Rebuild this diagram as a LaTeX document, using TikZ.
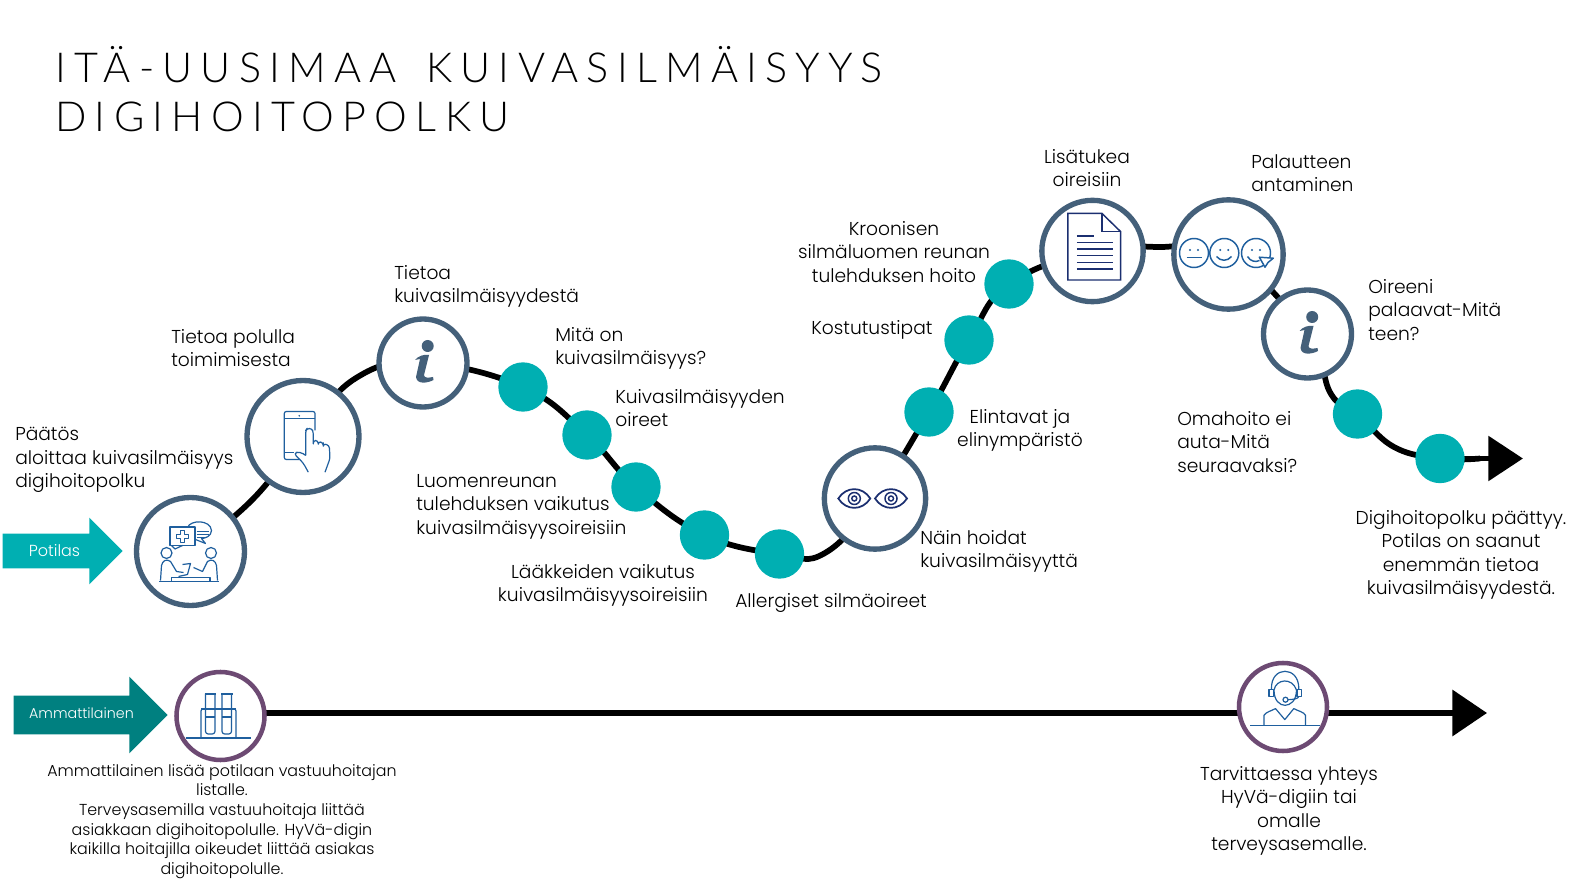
\documentclass[tikz,border=0pt]{standalone}
\usepackage{fontspec}
\setmainfont{Poppins Light}
\newfontfamily\titlefont[LetterSpace=20,WordSpace=1.5]{Lato Light}
\usetikzlibrary{arrows.meta, positioning, shapes.arrows, backgrounds}

\definecolor{slate}{HTML}{44607A}
\definecolor{plum}{HTML}{6D4A73}
\definecolor{dotteal}{HTML}{00AFB2}
\definecolor{darkteal}{HTML}{008080}
\definecolor{iconblue}{HTML}{1F5F9E}
\definecolor{navy}{HTML}{1B2F70}

\begin{document}
\begin{tikzpicture}[
  x=0.75pt, y=-0.75pt,
  stage/.style={circle, draw=slate, line width=4pt, fill=white, inner sep=0pt},
  staff/.style={circle, draw=plum, line width=3.4pt, fill=white, inner sep=0pt, minimum size=66pt},
  dot/.style={circle, fill=dotteal, inner sep=0pt, minimum size=37pt},
  lbl/.style={font=\fontsize{14}{17.6}\selectfont, align=left, inner sep=0pt, anchor=north west},
  lblc/.style={lbl, align=center, anchor=north},
  small/.style={font=\fontsize{11.9}{14.7}\selectfont, align=center, inner sep=0pt, anchor=north},
  role/.style={single arrow, single arrow head indent=0pt, inner sep=0pt, text depth=0pt,
    anchor=tip, shape border rotate=0},
  rolelbl/.style={text=white, inner sep=0pt},
  trail/.style={line width=4.3pt, black},
  icon/.style={draw=iconblue, line width=0.9pt, line join=round},
]
\useasboundingbox (0,0) rectangle (1571,880);

% title
\node[font=\titlefont\fontsize{31}{37}\selectfont, align=left, inner sep=0pt, anchor=north west] (title) at (55,46)
  {ITÄ-UUSIMAA KUIVASILMÄISYYS\\DIGIHOITOPOLKU};

% role arrows
\node[role, fill=dotteal, minimum height=90pt, text height=25.5pt, single arrow head extend=12pt] (potilas) at (123,551) {};
\node[role, fill=darkteal, minimum height=115.5pt, text height=28.5pt, single arrow head extend=14.25pt] (ammattilainen) at (168,715) {};
\node[rolelbl, font=\fontsize{12}{14}\selectfont] (potilaslbl) at (54.5,550.5) {Potilas};
\node[rolelbl, font=\fontsize{10.7}{13}\selectfont] (ammattilainenlbl) at (81.5,713.5) {Ammattilainen};

% patient path
\node[stage, minimum size=81pt] (c1) at (190.5,551.5) {};
\node[stage, minimum size=84pt] (c2) at (303,436.5) {};
\node[stage, minimum size=66pt] (c3) at (423,363) {};
\node[dot] (d1) at (523,387) {};
\node[dot] (d2) at (587,435) {};
\node[dot] (d3) at (636,487) {};
\node[dot] (d4) at (704.5,535) {};
\node[dot] (d5) at (779.5,554) {};
\node[stage, minimum size=76pt] (c4) at (875,498.5) {};
\node[dot] (d6) at (929,412) {};
\node[dot] (d7) at (969,340) {};
\node[dot] (d8) at (1009,284) {};
\node[stage, minimum size=76pt] (c5) at (1092.5,251) {};
\node[stage, minimum size=82pt] (c6) at (1228.5,254.5) {};
\node[stage, minimum size=66pt] (c7) at (1307.5,334) {};
\node[dot] (d9) at (1357.5,414) {};
\node[dot] (d10) at (1440,458.5) {};
\coordinate (trailend) at (1523,458.5);

% bends of the path
\coordinate (w1) at (253,499);
\coordinate (w2) at (356,378);
\coordinate (w3) at (825,553);
\coordinate (w4) at (1331,394);
\coordinate (w5) at (1394,447);
\coordinate (w6) at (1157,247);

% staff path
\node[staff] (c8) at (220.5,716) {};
\node[staff] (c9) at (1283,707) {};
\coordinate (staffend) at (1487,713);

% connectors
\begin{scope}[on background layer]
  \draw[trail] plot[smooth, tension=0.7] coordinates {(c1.center) (w1) (c2.center) (w2) (c3.center) (d1.center) (d2.center)
    (d3.center) (d4.center) (d5.center) (w3) (c4.center) (d6.center) (d7.center) (d8.center) (c5.center) (w6) (c6.center)
    (c7.center) (w4) (d9.center) (w5) (d10.center) (1480,458.5)};
  \draw[trail, -{Triangle[length=26pt, width=33pt]}] (d10.center) -- (trailend);
  \draw[trail, -{Triangle[length=26pt, width=34pt]}] (c8.center |- staffend) -- (staffend);
\end{scope}

% labels patient
\node[lbl] (t1) at (15,427) {Päätös\\aloittaa kuivasilmäisyys\\digihoitopolku};
\node[lbl] (t2) at (171,329) {Tietoa polulla\\toimimisesta};
\node[lbl] (t3) at (394,265) {Tietoa\\kuivasilmäisyydestä};
\node[lbl] (t4) at (555,327) {Mitä on\\kuivasilmäisyys?};
\node[lbl] (t5) at (615,389) {Kuivasilmäisyyden\\oireet};
\node[lbl] (t6) at (416,474) {Luomenreunan\\tulehduksen vaikutus\\kuivasilmäisyysoireisiin};
\node[lblc] (t7) at (603,564) {Lääkkeiden vaikutus\\kuivasilmäisyysoireisiin};
\node[lbl] (t8) at (735,593) {Allergiset silmäoireet};
\node[lbl] (t9) at (920,530) {Näin hoidat\\kuivasilmäisyyttä};
\node[lblc] (t10) at (1020,409) {Elintavat ja\\elinympäristö};
\node[lbl] (t11) at (811,320) {Kostutustipat};
\node[lblc] (t12) at (894,221) {Kroonisen\\silmäluomen reunan\\tulehduksen hoito};
\node[lblc] (t13) at (1087,149) {Lisätukea\\oireisiin};
\node[lbl] (t14) at (1251,154) {Palautteen\\antaminen};
\node[lbl] (t15) at (1368,279) {Oireeni\\palaavat-Mitä\\teen?};
\node[lbl] (t16) at (1177,411) {Omahoito ei\\auta-Mitä\\seuraavaksi?};
\node[lblc] (t17) at (1461,510) {Digihoitopolku päättyy.\\Potilas on saanut\\enemmän tietoa\\kuivasilmäisyydestä.};

% labels staff
\node[small] (t18) at (222,764) {Ammattilainen lisää potilaan vastuuhoitajan\\listalle.\\Terveysasemilla vastuuhoitaja liittää\\asiakkaan digihoitopolulle. HyVä-digin\\kaikilla hoitajilla oikeudet liittää asiakas\\digihoitopolulle.};
\node[lblc] (t19) at (1289,766) {Tarvittaessa yhteys\\HyVä-digiin tai\\omalle\\terveysasemalle.};

% icon meeting
\begin{scope}[shift={(c1.center)}]
  \draw[icon] (-3,-24) .. controls (0,-32) and (20,-32) .. (21,-21) .. controls (21,-15) and (14,-13) .. (11,-13) -- (15,-8) -- (5,-12);
  \draw[icon, fill=white] (-20.5,-24.5) rectangle (4.5,-6);
  \draw[icon] (-19,-6) -- (-15.5,-2.5) -- (-8,-6);
  \draw[icon] (-10,-21) -- (-6,-21) -- (-6,-17) -- (-2,-17) -- (-2,-13) -- (-6,-13) -- (-6,-9) -- (-10,-9) -- (-10,-13) -- (-14,-13) -- (-14,-17) -- (-10,-17) -- cycle;
  \draw[icon] (6,-20) -- (18,-20) (6,-17) -- (18,-17) (6,-14) -- (14,-14);
  \draw[icon] (-24,1.5) circle (5.5);
  \draw[icon] (20.5,1.5) circle (5.5);
  \draw[icon] (-30,29) -- (-29,14) .. controls (-28,9) and (-24,7) .. (-20,10) -- (-14,20) -- (-7,21);
  \draw[icon] (27,29) -- (26,14) .. controls (25,9) and (21,7) .. (17,10) -- (12,20) -- (3,16);
  \draw[icon] (-8,13) -- (0,12) -- (-3,23) -- (-12,25);
  \draw[icon] (-31.5,30) -- (28,30);
  \draw[icon] (-19,30) -- (-19,25.7) -- (19.5,25.7) -- (19.5,30);
\end{scope}

% icon tablet
\begin{scope}[shift={(c2.center)}]
  \draw[icon, rounded corners=1.5pt] (12,-6) -- (12,-25) -- (-18.7,-25) -- (-18.7,23) -- (-3,23);
  \draw[icon] (-18.7,-17.7) -- (12,-17.7);
  \draw[icon] (-18.7,15.7) -- (-9,15.7);
  \fill[iconblue] (-3.7,-20.7) circle (0.9);
  \draw[icon, rounded corners=2pt] (2.7,19) -- (2.7,-6) -- (4,-8) -- (9,-8) -- (10.3,-4) -- (10.3,9) -- (10.3,4) -- (15,4) -- (15.3,9) -- (15.3,5) -- (20,6) -- (20.3,9) -- (20.3,7) -- (26.3,9) -- (27,22) -- (22,35.7);
  \draw[icon, rounded corners=3pt] (2.7,19) -- (-3,15) -- (-9.7,16.7) -- (0,26) -- (5.3,35.7);
\end{scope}

% icon info
\foreach \cn in {c3,c7} {
  \begin{scope}[shift={(\cn.center)}]
    \fill[slate] (4.7,-17) circle (6);
    \fill[slate] (-8,-3) .. controls (-5,-7) and (1,-9) .. (6,-8) -- (1,12) .. controls (1,15) and (5,15) .. (10,14) -- (10.5,17) .. controls (5,20) and (-6,22) .. (-7,14) -- (-3,-4) -- cycle;
  \end{scope}
}

% icon eyes
\foreach \ex in {-20.7,16} {
  \begin{scope}[shift={(c4.center)}, xshift=\ex*0.75pt]
    \draw[navy, line width=1.3pt] (-16,0) .. controls (-8,-12.5) and (8,-12.5) .. (16,0) .. controls (8,12.5) and (-8,12.5) .. (-16,0) -- cycle;
    \draw[navy, line width=1.1pt] (0,0) circle (6);
    \draw[navy, line width=1.1pt] (0,0) circle (2.5);
  \end{scope}
}

% icon document
\begin{scope}[shift={(c5.center)}]
  \draw[navy, line width=1.1pt] (-24.6,-37.7) -- (9.3,-37.7) -- (28.2,-19.3) -- (28.2,29) -- (-24.6,29) -- cycle;
  \draw[navy, line width=1.1pt] (9.3,-37.7) -- (9.3,-19.3) -- (28.2,-19.3);
  \draw[navy, line width=1.1pt] (-15.7,-15) -- (1,-15);
  \foreach \ly in {-8.3,-2,4.7,11.3,18}
    \draw[navy, line width=1.1pt] (-15.7,\ly) -- (20,\ly);
\end{scope}

% icon smileys
\begin{scope}[shift={(c6.center)}]
  \foreach \sx in {-34.5,-4.2,27.5} {
    \draw[icon, line width=1.1pt] (\sx,-1.5) circle (14.5);
    \fill[iconblue] (\sx-4,-4.5) circle (1.1);
    \fill[iconblue] (\sx+4,-4.5) circle (1.1);
  }
  \draw[icon, line width=1.1pt] (-42,2.8) -- (-27,2.8);
  \draw[icon, line width=1.1pt] (-12,2) .. controls (-8,7) and (-1,7) .. (3,2);
  \draw[icon, line width=1.1pt] (19,2) .. controls (22,7) and (27,8) .. (31,6);
  \draw[icon, line width=1.1pt, fill=white] (30.8,2.7) -- (44.8,3.7) -- (39.5,8) -- (36.5,12.7) -- cycle;
\end{scope}

% icon test tubes
\begin{scope}[shift={(c8.center)}]
  \draw[icon] (-35,22) -- (30,22);
  \draw[icon, rounded corners=1.5pt] (-19.5,22) -- (-19.5,-7) -- (15.5,-7) -- (15.5,22);
  \foreach \tx in {-15,1.5} {
    \draw[icon, fill=white, rounded corners=2pt] (\tx,-22) -- (\tx,18) -- (\tx+9.5,18) -- (\tx+9.5,-22);
    \draw[icon] (\tx-1,-22) -- (\tx+10.5,-22);
    \draw[icon] (\tx,1) -- (\tx+9.5,1);
  }
  \draw[icon] (-19.5,-7) -- (15.5,-7);
\end{scope}

% icon headset
\begin{scope}[shift={(c9.center)}]
  \draw[icon] (-9,-17) .. controls (-9,-6) and (-3,-1.7) .. (2,-1.7) .. controls (7,-1.7) and (13.5,-6) .. (13.5,-17);
  \draw[icon] (-11.5,-18) .. controls (-12,-30) and (-5,-35.7) .. (2,-35.7) .. controls (9,-35.7) and (16,-30) .. (15.8,-18);
  \draw[icon] (-9,-17) .. controls (-7,-28) and (9,-30) .. (13.5,-17);
  \draw[icon] (-14,-17.7) rectangle (-9.5,-10.7);
  \draw[icon] (14,-17.7) rectangle (18.5,-10.7);
  \draw[icon] (16,-10.7) .. controls (15,-8) and (10,-7.5) .. (5,-7.3);
  \draw[icon] (2.5,-7.3) circle (2.5);
  \draw[icon] (-33,18.3) -- (36.5,18.3);
  \draw[icon] (-19,18.3) -- (-19,8.3) .. controls (-17,5) and (-12,4) .. (-7.5,1.6) -- (1.8,12.6) -- (10.8,1.6) .. controls (15,4) and (21,5) .. (22.5,8.3) -- (22.5,18.3);
\end{scope}
\end{tikzpicture}
\end{document}
